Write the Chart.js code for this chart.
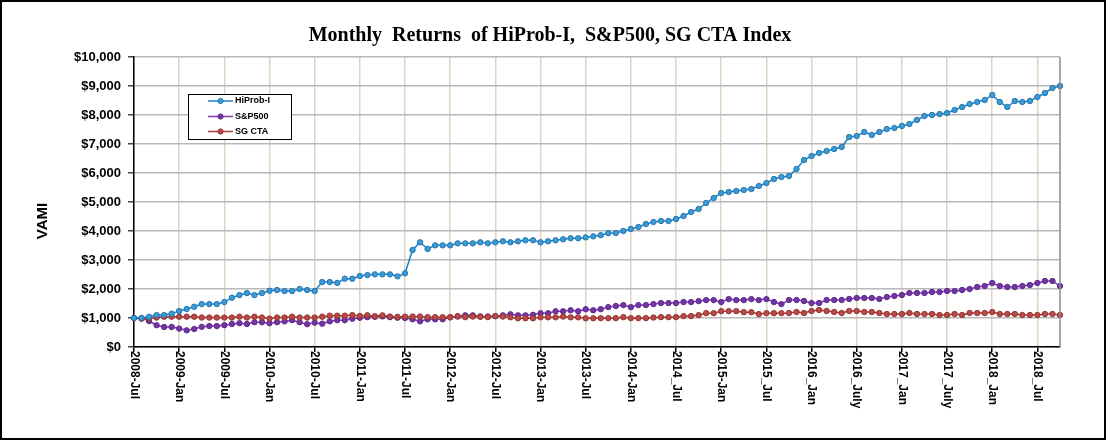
<!DOCTYPE html>
<html>
<head>
<meta charset="utf-8">
<title>Monthly Returns of HiProb-I, S&P500, SG CTA Index</title>
<script src="https://cdn.jsdelivr.net/npm/chart.js@4.4.0/dist/chart.umd.min.js"></script>
<style>
  html, body { margin: 0; padding: 0; background: #fff; }
  #wrap { width: 1106px; height: 440px; }
</style>
</head>
<body>
<div id="wrap"><canvas id="vami" width="1106" height="440"></canvas></div>
<script>
// VAMI of HiProb-I against S&P500 and SG CTA, monthly, 2008-Jul .. 2018-Oct
const chartTitle = 'Monthly  Returns  of HiProb-I,  S&P500, SG CTA Index';
const yTitle = 'VAMI';
const seriesNames = ['HiProb-I', 'S&P500', 'SG CTA'];

// labels shown every 6 months (spelling as in the original sheet)
const tickLabels = [
  '2008-Jul', '2009-Jan', '2009-Jul', '2010-Jan', '2010-Jul', '2011-Jan', '2011-Jul',
  '2012-Jan', '2012-Jul', '2013-Jan', '2013-Jul', '2014-Jan', '2014_Jul', '2015-Jan',
  '2015_Jul', '2016_Jan', '2016_July', '2017_Jan', '2017_July', '2018_Jan', '2018_Jul'
];

const hiprob = [
  1000, 1000, 1045, 1100, 1100, 1150, 1240, 1310, 1390, 1480, 1480, 1480, 1550, 1700, 1790, 1860,
  1790, 1860, 1940, 1965, 1930, 1930, 2000, 1965, 1930, 2240, 2240, 2210, 2355, 2355, 2450, 2480,
  2505, 2505, 2505, 2437, 2540, 3345, 3610, 3380, 3505, 3505, 3505, 3575, 3575, 3575, 3610, 3575,
  3610, 3645, 3610, 3645, 3680, 3680, 3610, 3645, 3680, 3715, 3750, 3750, 3780, 3815, 3855, 3925,
  3931, 4000, 4069, 4138, 4241, 4310, 4345, 4345, 4414, 4517, 4655, 4759, 4966, 5138, 5310, 5345,
  5379, 5414, 5448, 5552, 5655, 5793, 5862, 5897, 6138, 6448, 6586, 6690, 6759, 6828,
  6897, 7241, 7276, 7414, 7310, 7414, 7517, 7552, 7621, 7690, 7828, 7966, 8000, 8034, 8069, 8172,
  8276, 8379, 8448, 8517, 8690, 8448, 8276, 8483, 8448, 8483, 8621, 8759, 8931, 9000
];

const sp500 = [
  1000, 995, 895, 750, 690, 690, 635, 575, 620, 695, 722, 722, 752, 793, 822, 793,
  855, 855, 822, 855, 885, 925, 855, 787, 840, 805, 885, 925, 925, 975, 1010, 1030,
  1040, 1055, 1030, 1010, 1000, 954, 885, 954, 954, 954, 1023, 1052, 1092, 1092, 1052, 1052,
  1063, 1092, 1127, 1092, 1092, 1110, 1162, 1162, 1231, 1231, 1265, 1231, 1300, 1265, 1305, 1375,
  1414, 1445, 1375, 1445, 1445, 1480, 1515, 1515, 1515, 1550, 1550, 1582, 1617, 1617, 1550, 1652,
  1617, 1617, 1652, 1617, 1652, 1550, 1480, 1621, 1621, 1586, 1517, 1517, 1621, 1621,
  1621, 1655, 1690, 1690, 1690, 1655, 1724, 1759, 1793, 1862, 1862, 1862, 1897, 1897, 1931, 1931,
  1966, 2000, 2069, 2103, 2207, 2103, 2069, 2069, 2103, 2138, 2207, 2276, 2276, 2103
];

const sgcta = [
  1000, 970, 985, 1015, 1045, 1045, 1045, 1045, 1045, 1015, 1015, 1015, 1015, 1015, 1045, 1015,
  1045, 1015, 980, 1015, 1015, 1045, 1015, 1015, 1015, 1045, 1080, 1080, 1080, 1100, 1070, 1095,
  1060, 1092, 1050, 1040, 1045, 1050, 1050, 1030, 1030, 1025, 1025, 1060, 1030, 1050, 1045, 1030,
  1065, 1050, 1025, 990, 990, 990, 1023, 1023, 1023, 1050, 1023, 1023, 990, 990, 995, 995,
  995, 1030, 995, 995, 995, 1015, 1030, 1030, 1030, 1065, 1065, 1100, 1168, 1168, 1236, 1236,
  1236, 1200, 1200, 1135, 1168, 1168, 1168, 1172, 1207, 1172, 1241, 1276, 1241, 1207,
  1172, 1241, 1241, 1207, 1207, 1172, 1138, 1138, 1138, 1172, 1138, 1138, 1138, 1103, 1103, 1138,
  1103, 1172, 1172, 1172, 1207, 1138, 1138, 1138, 1103, 1103, 1103, 1138, 1138, 1103
];

// one category per month
const monthNames = ['Jan', 'Feb', 'Mar', 'Apr', 'May', 'Jun', 'Jul', 'Aug', 'Sep', 'Oct', 'Nov', 'Dec'];
const months = hiprob.map((v, i) => {
  const m = 6 + i; // 2008-Jul is month index 6
  return (2008 + Math.floor(m / 12)) + '-' + monthNames[m % 12];
});

const SANS = '"Liberation Sans", Arial, sans-serif';
const SERIF = '"Liberation Serif", "Times New Roman", serif';

function lineSet(label, data, line, fill, edge, order) {
  return {
    label: label,
    data: data,
    borderColor: line,
    borderWidth: 1.5,
    pointRadius: 2.7,
    pointBorderWidth: 1,
    pointBackgroundColor: fill,
    pointBorderColor: edge,
    tension: 0,
    clip: false,
    order: order
  };
}

// title, rotated month labels, legend box and frame
const decorations = {
  id: 'decorations',
  beforeDraw(chart) {
    const ctx = chart.ctx;
    ctx.save();
    ctx.fillStyle = '#fff';
    ctx.fillRect(0, 0, chart.width, chart.height);
    ctx.restore();
  },
  afterDraw(chart) {
    const ctx = chart.ctx;
    const area = chart.chartArea;
    const xs = chart.scales.x;
    ctx.save();

    // plot frame, right side
    ctx.strokeStyle = '#8a8a8a';
    ctx.lineWidth = 1.5;
    ctx.beginPath();
    ctx.moveTo(area.right, area.top);
    ctx.lineTo(area.right, area.bottom);
    ctx.stroke();

    // month labels, reading top to bottom
    ctx.fillStyle = '#000';
    ctx.font = 'bold 12px ' + SANS;
    ctx.textAlign = 'left';
    ctx.textBaseline = 'middle';
    tickLabels.forEach((lab, k) => {
      const px = xs.getPixelForValue(k * 6);
      ctx.save();
      ctx.translate(px, area.bottom + 4);
      ctx.rotate(Math.PI / 2);
      ctx.fillText(lab, 0, 0);
      ctx.restore();
    });

    // chart title
    ctx.font = 'bold 20px ' + SERIF;
    ctx.textAlign = 'center';
    ctx.textBaseline = 'alphabetic';
    ctx.fillText(chartTitle, 550, 41);

    // y axis title
    ctx.font = 'bold 15px ' + SANS;
    ctx.save();
    ctx.translate(43, 221);
    ctx.rotate(-Math.PI / 2);
    ctx.textBaseline = 'middle';
    ctx.fillText(yTitle, 0, 0);
    ctx.restore();

    // legend
    ctx.fillStyle = '#fff';
    ctx.fillRect(188.5, 94.5, 103, 45);
    ctx.strokeStyle = '#000';
    ctx.lineWidth = 1;
    ctx.strokeRect(188.5, 94.5, 103, 45);
    const rows = [101, 116.5, 131.5];
    chart.data.datasets.forEach((ds, i) => {
      const y = rows[i];
      ctx.strokeStyle = ds.borderColor;
      ctx.lineWidth = 1.5;
      ctx.beginPath();
      ctx.moveTo(208, y);
      ctx.lineTo(233, y);
      ctx.stroke();
      ctx.beginPath();
      ctx.arc(220.5, y, 2.6, 0, Math.PI * 2);
      ctx.fillStyle = ds.pointBackgroundColor;
      ctx.fill();
      ctx.strokeStyle = ds.pointBorderColor;
      ctx.lineWidth = 1;
      ctx.stroke();
      ctx.fillStyle = '#000';
      ctx.font = 'bold 9px ' + SANS;
      ctx.textAlign = 'left';
      ctx.textBaseline = 'middle';
      ctx.fillText(ds.label, 235, y);
    });

    // outer border
    ctx.strokeStyle = '#000';
    ctx.lineWidth = 2;
    ctx.strokeRect(1, 1, chart.width - 2, chart.height - 2);
    ctx.restore();
  }
};

new Chart(document.getElementById('vami').getContext('2d'), {
  type: 'line',
  data: {
    labels: months,
    datasets: [
      lineSet(seriesNames[0], hiprob, '#1f80c6', '#3b9bd4', '#2476b2', 0),
      lineSet(seriesNames[1], sp500, '#7a3fa8', '#7434a6', '#5f2a8c', 2),
      lineSet(seriesNames[2], sgcta, '#a33c3a', '#b94a48', '#963432', 1)
    ]
  },
  options: {
    responsive: false,
    animation: false,
    layout: { padding: { left: 0, top: 57, right: 46, bottom: 87 } },
    plugins: {
      legend: { display: false },
      tooltip: { enabled: false }
    },
    scales: {
      x: {
        offset: false,
        ticks: { display: false, autoSkip: false },
        grid: {
          color: (c) => c.index % 6 === 0 ? '#ddd6c1' : 'rgba(0,0,0,0)',
          lineWidth: 1.5,
          tickLength: 5,
          tickColor: (c) => c.index % 6 === 0 ? '#000' : 'rgba(0,0,0,0)'
        },
        border: { color: '#000', width: 1.5 },
        afterFit: (s) => { s.height = 6; }
      },
      y: {
        min: 0,
        max: 10000,
        ticks: {
          stepSize: 1000,
          padding: 7,
          color: '#000',
          font: { family: SANS, size: 13, weight: 'bold' },
          callback: (v) => '$' + v.toLocaleString('en-US')
        },
        grid: {
          color: '#b8b8b8',
          lineWidth: 1.5,
          tickLength: 6,
          tickColor: '#444'
        },
        border: { color: '#000', width: 1.5 },
        afterFit: (s) => { s.width = 134; }
      }
    }
  },
  plugins: [decorations]
});
</script>
</body>
</html>
